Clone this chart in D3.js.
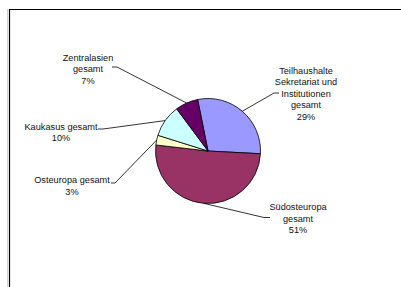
<!DOCTYPE html>
<html lang="de">
<head>
  <meta charset="UTF-8">
  <title>Pie</title>
  <script src="https://d3js.org/d3.v7.min.js"></script>
  <style>
    body { margin: 0; background: #fff; }
    text { font-family: "Liberation Sans", Arial, sans-serif; font-size: 9.2px; fill: #111; }
  </style>
</head>
<body>
<svg width="401" height="287"></svg>
<script>
  var categories = [
    'Teilhaushalte Sekretariat und Institutionen gesamt',
    'Südosteuropa gesamt',
    'Osteuropa gesamt',
    'Kaukasus gesamt',
    'Zentralasien gesamt'
  ];
  var values = [29, 51, 3, 10, 7];
  var colors = ['#9999ff', '#993366', '#ffffcc', '#ccffff', '#660066'];
  // label text lines, split as in the picture
  var labelLines = [
    ['Teilhaushalte', 'Sekretariat und', 'Institutionen', 'gesamt'],
    ['Südosteuropa', 'gesamt'],
    ['Osteuropa gesamt'],
    ['Kaukasus gesamt'],
    ['Zentralasien', 'gesamt']
  ];

  // layout for labels: text centre x, first baseline y, leader end, elbow
  var labelLayout = [
    {x: 306, y: 73.5, end: [279, 93], elbow: [274, 93]},
    {x: 298, y: 210, end: [270, 217.5], elbow: [264, 217.5]},
    {x: 72, y: 183, end: [111, 183], elbow: [115, 183]},
    {x: 61, y: 129.5, end: [98, 129], elbow: [103, 129]},
    {x: 88, y: 60.5, end: [112, 67], elbow: [117, 67]}
  ];

  var svg = d3.select('svg');
  var cx = 208, cy = 151, r = 52.5;
  var lineH = 11.5;

  // frame
  svg.append('line').attr('x1', 7.5).attr('y1', 9).attr('x2', 7.5).attr('y2', 287)
    .attr('stroke', '#d0d0d0').attr('stroke-width', 1);
  svg.append('path')
    .attr('d', 'M9.5,287V9.5H401')
    .attr('fill', 'none').attr('stroke', '#000').attr('stroke-width', 1.2);

  var total = d3.sum(values);
  var start = -11.4 * Math.PI / 180;

  var pie = d3.pie().sort(null)
    .startAngle(start).endAngle(start + 2 * Math.PI);
  var arcs = pie(values);
  var arc = d3.arc().innerRadius(0).outerRadius(r);

  var g = svg.append('g').attr('transform', 'translate(' + cx + ',' + cy + ')');
  g.selectAll('path.slice')
    .data(arcs)
    .enter().append('path')
    .attr('class', 'slice')
    .attr('d', arc)
    .attr('fill', function (d, i) { return colors[i]; })
    .attr('stroke', '#000')
    .attr('stroke-width', 0.8)
    .attr('stroke-linejoin', 'round');

  // leader lines
  arcs.forEach(function (d, i) {
    var a = (d.startAngle + d.endAngle) / 2;
    var px = cx + r * Math.sin(a), py = cy - r * Math.cos(a);
    var L = labelLayout[i];
    svg.append('path')
      .attr('d', 'M' + px + ',' + py + 'L' + L.elbow[0] + ',' + L.elbow[1] + 'L' + L.end[0] + ',' + L.end[1])
      .attr('fill', 'none')
      .attr('stroke', '#000')
      .attr('stroke-width', 0.8);
  });

  // labels
  labelLines.forEach(function (lines, i) {
    var L = labelLayout[i];
    var pct = Math.round(values[i] / total * 100) + '%';
    var t = svg.append('text').attr('text-anchor', 'middle');
    lines.concat([pct]).forEach(function (s, k) {
      t.append('tspan').attr('x', L.x).attr('y', L.y + k * lineH).text(s);
    });
  });
</script>
</body>
</html>
